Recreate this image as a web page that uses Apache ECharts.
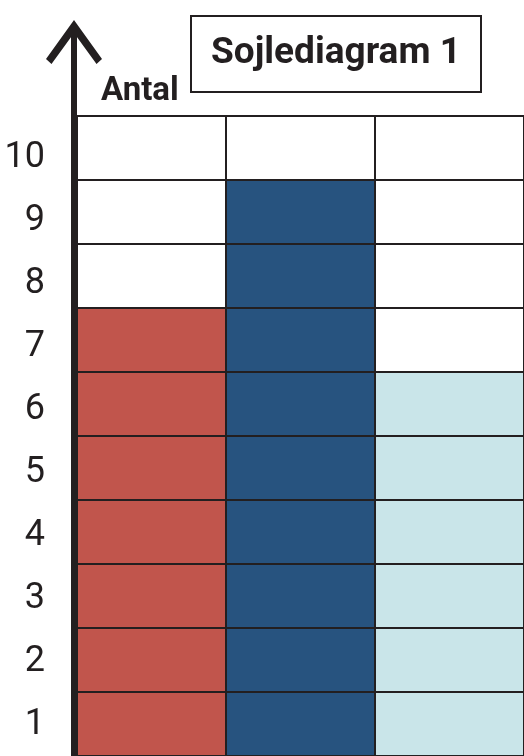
<!DOCTYPE html>
<html>
<head>
<meta charset="utf-8">
<script src="https://cdn.jsdelivr.net/npm/echarts@6/dist/echarts.min.js"></script>
<style>
html,body{margin:0;padding:0;background:#fff;}
#chart{width:524px;height:756px;}
</style>
</head>
<body>
<div id="chart"></div>
<script>
const categories = ['Søjle 1', 'Søjle 2', 'Søjle 3'];
const values = [7, 9, 6];
const barColors = ['#c1554c', '#27537f', '#c9e5e9'];
const yTickLabels = ['1', '2', '3', '4', '5', '6', '7', '8', '9', '10'];
const chartTitle = 'Sojlediagram 1';
const yAxisName = 'Antal';

const ink = '#231f20';
const arrowPath = 'path://M28,0 L56,39 L50.5,44 L28,13 L5.5,44 L0,39 Z M25,4 L31,4 L31,96 L25,96 Z';

const chart = echarts.init(document.getElementById('chart'));
chart.setOption({
  animation: false,
  backgroundColor: '#fff',
  title: {
    text: chartTitle,
    left: 191,
    top: 16,
    padding: [18, 20],
    borderColor: ink,
    borderWidth: 2,
    textStyle: {
      fontFamily: 'Roboto',
      fontWeight: 'bold',
      fontSize: 37,
      lineHeight: 40,
      color: ink
    }
  },
  grid: [
    { left: 77, right: -2, top: 116, bottom: -3, containLabel: false },
    { left: 77, right: -2, top: 126, bottom: -5, containLabel: false }
  ],
  xAxis: [
    {
      type: 'category',
      gridIndex: 0,
      data: categories,
      z: 5,
      boundaryGap: true,
      axisLine: { show: false },
      axisTick: { show: false },
      axisLabel: { show: false },
      splitLine: { show: true, lineStyle: { color: ink, width: 2 } }
    },
    {
      type: 'category',
      gridIndex: 1,
      data: categories,
      show: false
    }
  ],
  yAxis: [
    {
      type: 'value',
      gridIndex: 0,
      min: 0,
      max: 10,
      interval: 1,
      z: 5,
      offset: 3,
      name: yAxisName,
      nameLocation: 'end',
      nameGap: 8,
      nameTextStyle: {
        fontFamily: 'Roboto',
        fontWeight: 'bold',
        fontSize: 33,
        color: ink,
        align: 'left',
        verticalAlign: 'bottom',
        padding: [0, 0, 0, 27]
      },
      axisLine: {
        show: true,
        lineStyle: { color: ink, width: 6 },
        symbol: ['none', arrowPath],
        symbolSize: [56, 96],
        symbolOffset: [0, 48]
      },
      axisTick: { show: false },
      axisLabel: { show: false },
      splitLine: { show: true, lineStyle: { color: ink, width: 2 } }
    },
    {
      type: 'category',
      gridIndex: 1,
      data: yTickLabels,
      position: 'left',
      offset: 3,
      boundaryGap: true,
      axisLine: { show: false },
      axisTick: { show: false },
      splitLine: { show: false },
      axisLabel: {
        margin: 29,
        fontFamily: 'Roboto',
        fontSize: 36,
        color: ink
      }
    }
  ],
  series: [
    {
      type: 'bar',
      xAxisIndex: 0,
      yAxisIndex: 0,
      barWidth: '100%',
      barCategoryGap: 0,
      data: values.map((v, i) => ({ value: v, itemStyle: { color: barColors[i] } }))
    }
  ]
});
</script>
</body>
</html>
